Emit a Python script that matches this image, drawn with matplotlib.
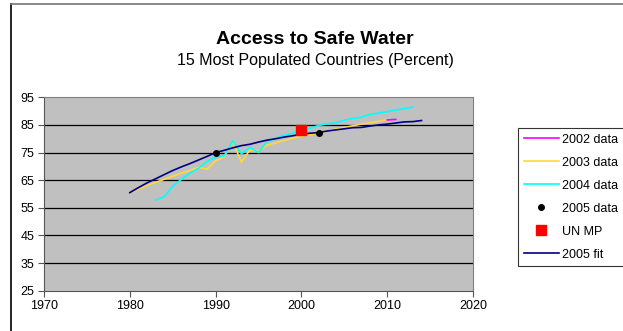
import matplotlib
matplotlib.use("Agg")
import matplotlib.pyplot as plt
from matplotlib.lines import Line2D

plt.rcParams['font.family'] = ['Liberation Sans', 'DejaVu Sans']

# survey series (percent with access)
years_2002 = [2010, 2011]
vals_2002 = [86.8, 87.0]

years_2003 = list(range(1980, 2011))
vals_2003 = [60.5, 61.8, 63.0, 64.2, 65.3, 66.4, 67.5, 68.5, 69.6, 69.0,
             72.0, 73.4, 79.0, 71.5, 76.0, 75.5, 77.7, 78.5, 79.4, 80.2,
             80.9, 81.5, 82.1, 82.7, 83.5, 84.1, 84.7, 85.3, 85.8, 86.3,
             86.8]

years_2004 = list(range(1983, 2014))
vals_2004 = [57.8, 59.0, 62.8, 65.3, 67.5, 69.3, 71.8, 73.3, 73.8, 79.2,
             74.6, 76.8, 75.0, 79.0, 80.2, 81.3, 82.0, 82.8, 83.8, 84.8,
             85.4, 85.8, 86.7, 87.4, 87.8, 88.8, 89.3, 89.8, 90.4, 90.9,
             91.5]

years_2005 = [1990, 2002]
vals_2005 = [75.0, 82.2]

years_un = [2000]
vals_un = [83.0]

years_fit = list(range(1980, 2015))
vals_fit = [60.5, 62.3, 64.0, 65.5, 67.0, 68.5, 69.8, 71.0, 72.3, 73.6,
            75.0, 75.8, 76.7, 77.5, 78.0, 78.8, 79.5, 80.0, 80.6, 81.1,
            81.6, 82.0, 82.2, 82.8, 83.2, 83.6, 84.0, 84.1, 84.6, 85.0,
            85.3, 85.7, 86.1, 86.2, 86.6]

x_ticks = [1970, 1980, 1990, 2000, 2010, 2020]
y_ticks = [25, 35, 45, 55, 65, 75, 85, 95]

fig = plt.figure(figsize=(6.23, 3.31), dpi=100)
ax = fig.add_axes([44 / 623, 1 - 290.7 / 331, (473 - 44) / 623, (290.7 - 97.3) / 331])
ax.set_facecolor('#C0C0C0')

ax.plot(years_2002, vals_2002, color='#FF00FF', lw=1.2, label='2002 data', zorder=4)
ax.plot(years_2003, vals_2003, color='#FFD93A', lw=1.2, label='2003 data', zorder=3)
ax.plot(years_2004, vals_2004, color='#00FFFF', lw=1.2, label='2004 data', zorder=3)
ax.plot(years_2005, vals_2005, 'o', color='black', ms=4, label='2005 data', zorder=6)
ax.plot(years_un, vals_un, 's', color='#FF0000', ms=7, label='UN MP', zorder=5)
ax.plot(years_fit, vals_fit, color='#000080', lw=1.2, label='2005 fit', zorder=4)

ax.set_xlim(1970, 2020)
ax.set_ylim(25, 95)
ax.set_xticks(x_ticks)
ax.set_yticks(y_ticks)
ax.tick_params(labelsize=9, length=4, width=0.8, color='#555555', pad=3)
for y in y_ticks[1:-1]:
    ax.axhline(y, color='black', lw=0.9, zorder=1)
for side in ('top', 'right'):
    ax.spines[side].set_color('#808080')
for side in ('left', 'bottom'):
    ax.spines[side].set_color('#555555')

fig.text(315 / 623, 1 - 39 / 331, 'Access to Safe Water', ha='center', va='center',
         fontsize=14, fontweight='bold')
fig.text(315 / 623, 1 - 60 / 331, '15 Most Populated Countries (Percent)', ha='center',
         va='center', fontsize=11.5)

leg = fig.legend(loc='upper left', bbox_to_anchor=(518 / 623, 1 - 128 / 331),
                 fontsize=9, frameon=True, fancybox=False, handlelength=2.8,
                 labelspacing=0.88, borderpad=0.45, handletextpad=0.3, borderaxespad=0)
leg.get_frame().set_edgecolor('black')
leg.get_frame().set_linewidth(0.8)

# page frame lines
fig.add_artist(Line2D([11 / 623, 11 / 623], [0, 1 - 4 / 331], color='black', lw=1.2))
fig.add_artist(Line2D([11 / 623, 1], [1 - 4 / 331, 1 - 4 / 331], color='#777777', lw=1.2))

fig.savefig('out.png', dpi=100)
